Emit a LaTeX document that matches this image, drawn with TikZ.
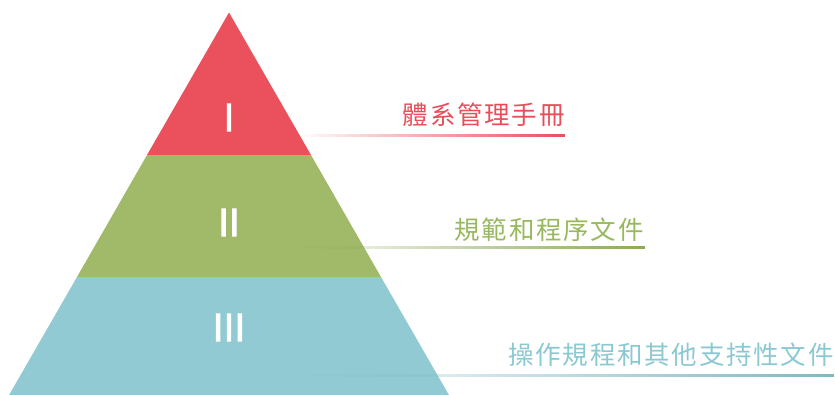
\documentclass[tikz,border=0pt]{standalone}
\usepackage{fontspec}
\setmainfont{Noto Sans CJK TC}
\newfontfamily\cjkcap[LetterSpace=7]{Noto Sans CJK TC}
\newfontfamily\numfont[FakeBold=2.8]{Noto Sans CJK TC}
\usetikzlibrary{fadings}
\definecolor{cred}{RGB}{235,81,93}
\definecolor{cgreen}{RGB}{161,186,106}
\definecolor{cblue}{RGB}{145,202,211}
\definecolor{tred}{RGB}{232,78,90}
\definecolor{tgreen}{RGB}{152,184,94}
\definecolor{tblue}{RGB}{138,200,210}
\tikzfading[name=fadein, left color=transparent!100, right color=transparent!0]
\begin{document}
\begin{tikzpicture}[x=1pt,y=-1pt,
  numeral/.style={text=white,font=\numfont\fontsize{37}{37}\selectfont,inner sep=0pt},
  caption/.style={font=\cjkcap\fontsize{25.5}{26}\selectfont,inner sep=0pt,anchor=base east},
  underline/.style={line width=3pt,path fading=fadein}]
\useasboundingbox (0,0) rectangle (835,394);
% pyramid tiers
\fill[cred] (229,12.5) -- (311,155) -- (147,155) -- cycle;
\fill[cgreen] (147,155) -- (311,155) -- (381,277) -- (77,277) -- cycle;
\fill[cblue] (77,277) -- (381,277) -- (449.5,396) -- (8.5,396) -- cycle;
% numerals
\node[numeral] (n1) at (229,117.5) {I};
\node[numeral] (n2) at (229,222.5) {II};
\node[numeral] (n3) at (229,327.5) {III};
% underlines
\coordinate (r0) at (298,135); \coordinate (r1) at (565,135);
\coordinate (g0) at (285,247); \coordinate (g1) at (645,247);
\coordinate (b0) at (285,375); \coordinate (b1) at (834,375);
\draw[underline,draw=tred] (r0) -- (r1);
\draw[underline,draw=tgreen!92!black] (g0) -- (g1);
\draw[underline,draw=tblue!92!black] (b0) -- (b1);
% captions
\node[caption,text=tred] (t1) at (565,124) {體系管理手冊};
\node[caption,text=tgreen] (t2) at (644,239) {規範和程序文件};
\node[caption,text=tblue] (t3) at (834,364) {操作規程和其他支持性文件};
\end{tikzpicture}
\end{document}
